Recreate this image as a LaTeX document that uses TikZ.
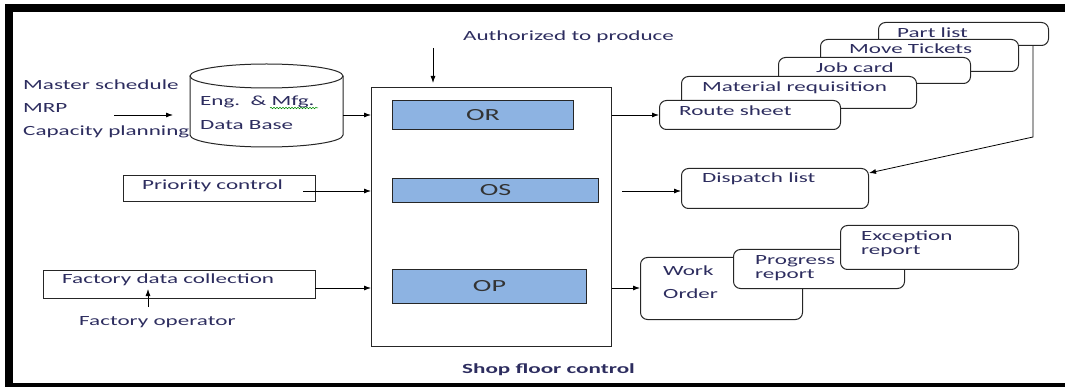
\documentclass[tikz,border=0pt]{standalone}
\usepackage{fontspec}
\setmainfont{Carlito}
\usetikzlibrary{arrows.meta,decorations.pathmorphing}
\definecolor{txt}{RGB}{45,45,95}
\definecolor{opfill}{RGB}{141,179,226}
\newcommand\sx[1]{\scalebox{1.65}[1]{#1}}
\begin{document}
\begin{tikzpicture}[x=1pt,y=-1pt,
  lbl/.style={anchor=west,inner sep=0pt,text=txt,font=\fontsize{14}{16}\selectfont},
  blbl/.style={anchor=west,inner sep=0pt,text=txt,font=\fontsize{14}{16}\selectfont\bfseries},
  sq/.style={draw=black!85,line width=1pt,fill=white,anchor=north west,inner sep=0pt},
  opbox/.style={draw=black!85,line width=1pt,fill=opfill,anchor=north west,inner sep=0pt},
  optext/.style={inner sep=0pt,text=black!80,font=\fontsize{17}{19}\selectfont},
  rbox/.style={draw=black!85,line width=1pt,fill=white,rounded corners=7pt,anchor=north west,inner sep=0pt},
  arr/.style={-{Latex[length=7pt,width=5pt]},line width=0.8pt,black}]
\path[use as bounding box] (0,0) rectangle (1065,387);
% frame
\fill[black] (5,4) rectangle (1065,12);
\fill[black] (5,4) rectangle (13,387);
\fill[black] (5,383) rectangle (1065,387);

% left inputs
\node[lbl] (ms) at (23,84.5) {\sx{Master schedule}};
\node[lbl] (mrp) at (23,108) {\sx{MRP}};
\node[lbl] (cp) at (23,131.5) {\sx{Capacity planning}};
\coordinate (m1) at (114,115);
\coordinate (m2) at (173,115);
\draw[arr] (m1) -- (m2);

% database cylinder
\node[anchor=north west,inner sep=0pt,minimum width=153pt,minimum height=83pt] (db) at (190,64) {};
\draw[line width=1pt,black!85,fill=white] (190,76) -- (190,135) arc[start angle=180,end angle=360,x radius=76.5pt,y radius=12pt] -- (343,76);
\draw[line width=1pt,black!85,fill=white] (266.5,76) ellipse[x radius=76.5pt,y radius=12pt];
\node[lbl] (eng) at (200,102) {\sx{Eng.~~\& Mfg.}};
\draw[green!55!black,line width=0.5pt,decorate,decoration={snake,amplitude=0.8pt,segment length=3pt}] (270,108) -- (318,108);
\node[lbl] (dbt) at (200,125.5) {\sx{Data Base}};

% priority control
\node[sq,minimum width=192pt,minimum height=26pt] (pc) at (123,175) {};
\node[lbl] at (142,186) {\sx{Priority control}};
\coordinate (p1) at (303,191);

% factory data collection
\node[sq,minimum width=272pt,minimum height=28pt] (fdc) at (43,270) {};
\node[lbl] at (62,280) {\sx{Factory data collection}};
\node[lbl] (fop) at (79,322) {\sx{Factory operator}};
\coordinate (fo1) at (148,307);
\coordinate (fo2) at (148,289);
\draw[arr] (fo1) -- (fo2);
\coordinate (f1) at (315,288);

% main box
\node[lbl] (auth) at (463,37) {\sx{Authorized to produce}};
\coordinate (a1) at (433,48);
\coordinate (a2) at (433,83);
\draw[arr] (a1) -- (a2);
\node[sq,minimum width=240pt,minimum height=259pt] (sfc) at (371,87) {};
\node[opbox,minimum width=181pt,minimum height=29pt] (or) at (392,100) {};
\node[optext] at (or.center) {\sx{OR}};
\node[opbox,minimum width=206pt,minimum height=24pt] (os) at (392,178) {};
\node[optext] at (os.center) {\sx{OS}};
\node[opbox,minimum width=194pt,minimum height=34pt] (op) at (392,269) {};
\node[optext] at (op.center) {\sx{OP}};
\node[blbl] (sfct) at (462,370) {\sx{Shop floor control}};

% left connectors
\draw[arr] (db.east |- m1) -- (sfc.west |- m1);
\draw[arr] (p1) -- (sfc.west |- p1);
\draw[arr] (f1) -- (sfc.west |- f1);

% right stacked documents
\node[rbox,minimum width=170pt,minimum height=23pt] (pl) at (878,22) {};
\node[lbl] at (897,32.5) {\sx{Part list}};
\node[rbox,minimum width=198pt,minimum height=32pt] (mt) at (820,39) {};
\node[lbl] at (849,49) {\sx{Move Tickets}};
\node[rbox,minimum width=192pt,minimum height=26pt] (jc) at (778,57) {};
\node[lbl] at (816,68) {\sx{Job card}};
\node[rbox,minimum width=235pt,minimum height=32pt] (mr) at (681,76) {};
\node[lbl] at (702,88) {\sx{Material requisition}};
\node[rbox,minimum width=181pt,minimum height=29pt] (rs) at (659,100) {};
\node[lbl] at (679,111) {\sx{Route sheet}};

\node[rbox,minimum width=187pt,minimum height=40pt] (dl) at (681,168) {};
\node[lbl] at (702,179) {\sx{Dispatch list}};

\node[rbox,minimum width=162pt,minimum height=62pt] (wo) at (640,257) {};
\node[lbl] at (663,271) {\sx{Work}};
\node[lbl] at (663,294) {\sx{Order}};
\node[rbox,minimum width=171pt,minimum height=39pt] (pr) at (733,249) {};
\node[lbl] at (755,261) {\sx{Progress}};
\node[lbl] at (755,275) {\sx{report}};
\node[rbox,minimum width=178pt,minimum height=44pt] (er) at (840,225) {};
\node[lbl] at (861,237) {\sx{Exception}};
\node[lbl] at (861,251) {\sx{report}};

% right connectors
\draw[arr] (sfc.east |- m1) -- (rs.west |- m1);
\coordinate (d1) at (622,191);
\draw[arr] (d1) -- (dl.west |- d1);
\draw[arr] (sfc.east |- f1) -- (wo.west |- f1);
\coordinate (k) at (1033,137);
\coordinate (dt) at (869,173);
\draw[arr] (pl.south -| k) -- (k) -- (dt);
\end{tikzpicture}
\end{document}
